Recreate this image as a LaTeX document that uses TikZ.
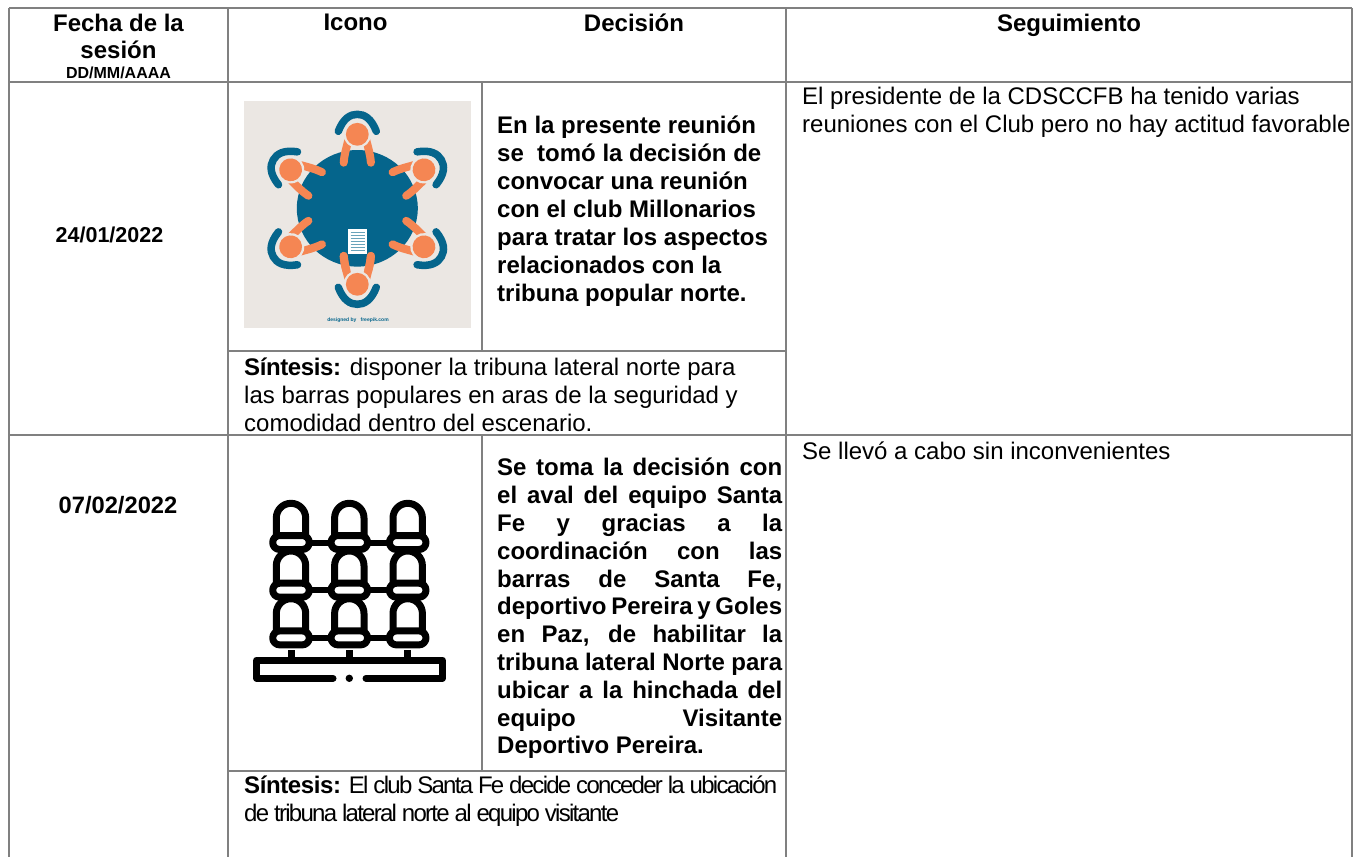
\documentclass[tikz,border=0pt]{standalone}
\usepackage{fontspec}
\setmainfont{Liberation Sans}
\newfontfamily\cond[LetterSpace=-7.2]{Liberation Sans}
\newfontfamily\bcond[LetterSpace=-1.7]{Liberation Sans}
\definecolor{rule}{HTML}{808080}
\definecolor{teal}{HTML}{05658C}
\definecolor{peach}{HTML}{F58653}
\definecolor{paper}{HTML}{EBE7E3}
\newcommand{\jl}[1]{\makebox[285pt][s]{#1}}
\tikzset{
 x=1pt,y=-1pt,
 grid/.style={draw=rule,line width=1.7pt},
 hd/.style={font=\fontsize{24}{27}\selectfont\bfseries,align=center,anchor=north,inner sep=0pt},
 body/.style={font=\fontsize{24}{27.7}\selectfont,align=left,anchor=north west,inner sep=0pt},
 dec/.style={font=\fontsize{24}{28}\selectfont\bfseries,align=left,anchor=north west,inner sep=0pt},
 dectwo/.style={font=\fontsize{24}{27.8}\selectfont\bfseries,align=left,anchor=north west,inner sep=0pt},
 seat/.style={draw=black,line width=7pt,line join=round,line cap=round},
 arm/.style={draw=peach,line width=8pt,line cap=round},
}
\begin{document}
\begin{tikzpicture}
\useasboundingbox (0,0) rectangle (1361,857);
\fill[white] (0,0) rectangle (1361,857);
% icon 1
\fill[paper] (244,101) rectangle (471,328);
\fill[teal] (357.3,208.3) ellipse [x radius=60.5,y radius=58.3];
\foreach \a/\r in {0/74,60/77,120/77,180/76,240/77,300/77}{
 \begin{scope}[shift={(357.3,208.3)},rotate=\a]
  \draw[teal,line width=7.5pt,line cap=round] (-19,-\r-3) .. controls (-14,-\r-16) and (-7,-\r-20) .. (0,-\r-20) .. controls (7,-\r-20) and (14,-\r-16) .. (19,-\r-3);
  \draw[arm] (-9,-\r+6) .. controls (-11,-\r+14) and (-13,-\r+20) .. (-13.6,-\r+28.4);
  \draw[arm] (9,-\r+6) .. controls (11,-\r+14) and (13,-\r+20) .. (13.6,-\r+28.4);
  \fill[paper] (0,-\r) circle (13.8);
  \fill[peach] (0,-\r) circle (11.4);
 \end{scope}}
\fill[white] (348.3,229.3) rectangle (366.7,254);
\foreach \yy in {232.5,235.5,238.5,241.5,244.5,247.5,250.5}{\draw[teal!60,line width=.6pt] (350.5,\yy) -- (364.5,\yy);}
\begin{scope}[shift={(357.3,208.3)},rotate=180]
  \draw[arm] (-11,-62) .. controls (-12,-58) and (-13,-54) .. (-13.6,-47.6);
  \draw[arm] (11,-62) .. controls (12,-58) and (13,-54) .. (13.6,-47.6);
\end{scope}
\node[font=\fontsize{5}{6}\selectfont\bfseries,text=teal,inner sep=0pt] (credit) at (358,320) {designed by\ \ \ freepik.com};
% icon 2
\foreach \cx in {291,349.3,407.7}{
 \foreach \cy in {0,47.7,95.4}{
  \begin{scope}[shift={(\cx,\cy)}]
   \draw[seat] (-14.7,535) -- (-14.7,518) arc[start angle=180,end angle=360,radius=14.7] -- (14.7,535);
   \draw[seat,rounded corners=7pt] (-18.3,535.5) rectangle (18.3,549.5);
  \end{scope}}
 \draw[seat,line cap=butt] (\cx,650) -- (\cx,660);
}
\foreach \cy in {542.7,590.4,638.1}{
 \draw[draw=black,line width=6pt] (312,\cy) -- (328,\cy);
 \draw[draw=black,line width=6pt] (370,\cy) -- (387,\cy);}
\draw[seat] (333,678.3) -- (256.7,678.3) -- (256.7,660) -- (442.3,660) -- (442.3,678.3) -- (366,678.3);
\fill (349.3,678.3) circle (3.7);
% grid
\draw[grid] (9,8) -- (1352,8) (9,82) -- (1352,82) (9,435) -- (1352,435);
\draw[grid] (9,8) -- (9,857) (228,8) -- (228,857) (786,8) -- (786,857) (1352,8) -- (1352,857);
\draw[grid] (482,82) -- (482,351) (482,435) -- (482,771);
\draw[grid] (228,351) -- (786,351) (228,771) -- (786,771);
% header
\node[hd] (h1) at (118.5,14) {Fecha de la\\sesión\\[-7pt]{\fontsize{16}{16}\selectfont DD/MM/AAAA}};
\node[hd] (h2) at (355.5,14) {Icono};
\node[hd] (h3) at (634,14) {Decisión};
\node[hd] (h4) at (1069,14) {Seguimiento};
% dates
\node[font=\fontsize{21.5}{24}\selectfont\bfseries,inner sep=0pt] (d1) at (109.5,234.5) {24/01/2022};
\node[font=\fontsize{23.7}{28}\selectfont\bfseries,inner sep=0pt] (d2) at (118,505.5) {07/02/2022};
% decisions
\node[dec] (t1) at (497,116) {En la presente reunión\\se\ \ tomó la decisión de\\convocar una reunión\\con el club Millonarios\\para tratar los aspectos\\relacionados con la\\tribuna popular norte.};
\node[dectwo] (t2) at (497,458) {\jl{Se toma la decisión con}\\\jl{el aval del equipo Santa}\\\jl{Fe y gracias a la}\\\jl{coordinación con las}\\\jl{barras de Santa Fe,}\\\jl{deportivo Pereira y Goles}\\\jl{en Paz, de habilitar la}\\\jl{tribuna lateral Norte para}\\\jl{ubicar a la hinchada del}\\\jl{equipo Visitante}\\Deportivo Pereira.};
\node[body] (s1) at (244,358) {{\bcond\bfseries Síntesis:} disponer la tribuna lateral norte para\\las barras populares en aras de la seguridad y\\comodidad dentro del escenario.};
\node[body] (s2) at (244,776) {{\bcond\bfseries Síntesis:}\hspace{8pt}{\cond El club Santa Fe decide conceder la ubicación}\\{\cond de tribuna lateral norte al equipo visitante}};
\node[body] (f1) at (802,87) {El presidente de la CDSCCFB ha tenido varias\\reuniones con el Club pero no hay actitud favorable};
\node[body] (f2) at (802,442) {Se llevó a cabo sin inconvenientes};
\end{tikzpicture}
\end{document}
